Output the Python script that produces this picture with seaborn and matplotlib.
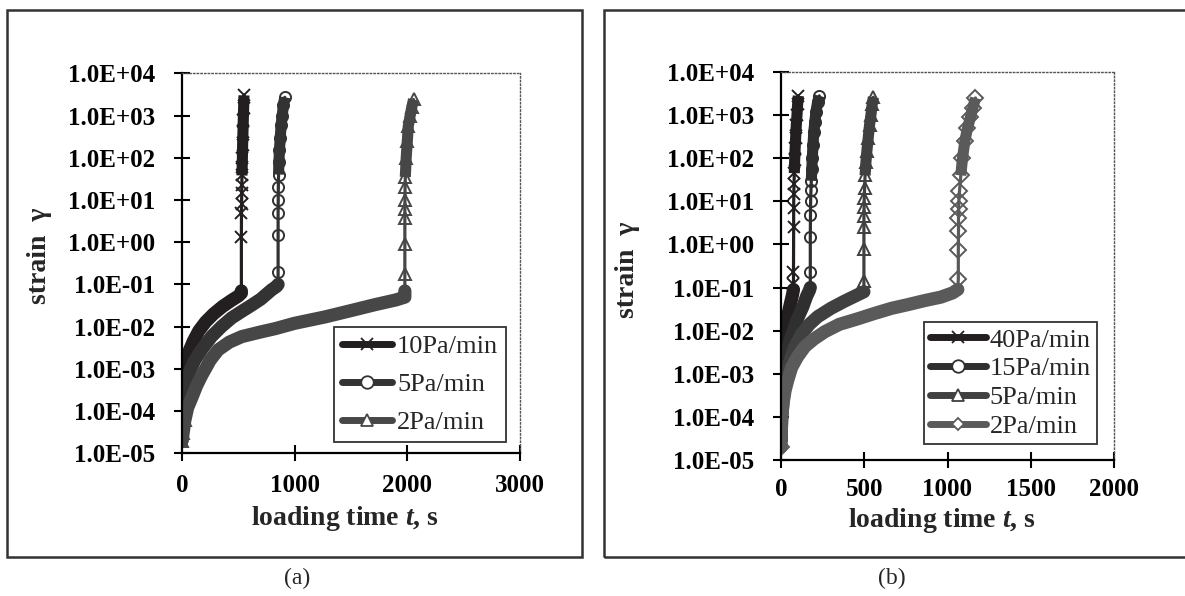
import numpy as np
import matplotlib
matplotlib.use("Agg")
import matplotlib.pyplot as plt
from matplotlib.lines import Line2D
from matplotlib.patches import Rectangle
from matplotlib.ticker import FuncFormatter, LogLocator, NullLocator, MultipleLocator
import seaborn as sns

# ---- panel (a): loading time (s) and strain ----
t_a10 = [0, 3, 8, 15, 30, 60, 100, 150, 210, 280, 360, 440, 500, 527,
         527, 527, 528, 529, 530, 531, 532, 534, 536, 538, 541, 544, 547, 550]
g_a10 = [2e-5, 6e-5, 1.5e-4, 4e-4, 1e-3, 2.5e-3, 4.5e-3, 8e-3, 1.3e-2, 2e-2, 3e-2, 4.2e-2, 5.3e-2, 6.2e-2,
         0.07, 1.3, 5, 8, 15, 23, 38, 60, 100, 200, 400, 800, 1500, 3000]

t_a5 = [0, 5, 15, 35, 70, 113, 180, 261, 350, 439, 530, 616, 700, 794, 840, 853,
        853, 853, 853, 854, 855, 857, 860, 865, 872, 880, 890, 900, 912]
g_a5 = [3e-5, 6e-5, 1.5e-4, 4e-4, 9e-4, 1.6e-3, 3e-3, 5.8e-3, 1e-2, 1.6e-2, 2.3e-2, 3.2e-2, 4.5e-2, 7.4e-2, 9e-2, 0.1,
        0.2, 1.5, 5, 10, 20, 40, 80, 150, 300, 600, 1000, 1800, 2700]

t_a2 = [0, 10, 25, 50, 85, 130, 175, 250, 320, 420, 530, 700, 830, 1000, 1270, 1500, 1710, 1900, 1978,
        1978, 1978, 1978, 1978, 1978, 1979, 1980, 1982, 1990, 2000, 2008, 2025, 2040, 2055]
g_a2 = [2e-5, 3e-5, 6e-5, 1.2e-4, 2e-4, 4e-4, 7e-4, 1.6e-3, 2.8e-3, 4.3e-3, 5.8e-3, 7.5e-3, 9e-3, 1.2e-2, 1.7e-2, 2.4e-2, 3.3e-2, 4.3e-2, 5e-2,
        0.07, 0.18, 0.93, 3.7, 6, 10, 20, 35, 100, 250, 550, 1000, 1600, 2400]

# ---- panel (b) ----
t_b40 = [0, 2, 5, 10, 18, 28, 40, 55, 68, 75,
         75, 75, 76, 76, 77, 78, 80, 82, 85, 88, 92, 96, 100, 104]
g_b40 = [3e-5, 1.5e-4, 6e-4, 2e-3, 5e-3, 1e-2, 2.2e-2, 4e-2, 6.5e-2, 0.09,
         0.12, 0.23, 2.5, 7, 15, 25, 45, 90, 170, 300, 600, 1000, 1800, 2800]

t_b15 = [0, 3, 8, 15, 25, 40, 54, 80, 104, 130, 154, 170, 176,
         176, 176, 177, 178, 180, 182, 185, 188, 192, 197, 203, 210, 220, 230]
g_b15 = [3e-5, 1e-4, 3e-4, 8e-4, 1.8e-3, 3.5e-3, 6e-3, 1.2e-2, 2.1e-2, 3.5e-2, 6.3e-2, 8.5e-2, 0.1,
         0.23, 1.5, 4.8, 10, 18, 30, 55, 100, 200, 400, 700, 1200, 2000, 2800]

t_b5 = [0, 5, 15, 30, 50, 80, 120, 170, 220, 300, 380, 450, 498,
        498, 498, 498, 498, 499, 500, 502, 505, 510, 516, 524, 532, 540, 548, 555]
g_b5 = [3e-5, 1e-4, 3e-4, 8e-4, 1.8e-3, 4e-3, 8e-3, 1.4e-2, 2.1e-2, 3.3e-2, 4.8e-2, 6.5e-2, 8e-2,
        0.14, 0.78, 2.5, 4.6, 7.5, 12, 20, 40, 80, 150, 300, 600, 1000, 1800, 2600]

t_b2 = [0, 4, 12, 24, 40, 64, 100, 144, 200, 264, 350, 464, 560, 664, 760, 864, 960, 1030, 1062,
        1065, 1065, 1066, 1066, 1067, 1068, 1072, 1080, 1090, 1104, 1120, 1138, 1152, 1168]
g_b2 = [2e-5, 1e-4, 2e-4, 4e-4, 7e-4, 1.4e-3, 2.5e-3, 4.3e-3, 6.5e-3, 9.5e-3, 1.4e-2, 1.9e-2, 2.5e-2, 3.3e-2, 4e-2, 5e-2, 6e-2, 7.5e-2, 0.09,
        0.16, 0.75, 2, 4, 6.5, 10, 17, 40, 100, 245, 500, 900, 1450, 2500]

labels_a = ["10Pa/min", "5Pa/min", "2Pa/min"]
labels_b = ["40Pa/min", "15Pa/min", "5Pa/min", "2Pa/min"]

sns.set_style("white")
plt.rcParams["font.family"] = ["Liberation Serif", "DejaVu Serif"]
plt.rcParams["font.weight"] = "bold"
plt.rcParams["mathtext.fontset"] = "custom"
plt.rcParams["mathtext.it"] = "Liberation Serif:bold:italic"
plt.rcParams["mathtext.rm"] = "Liberation Serif:bold"


def draw_series(ax, t, g, color, marker):
    t = np.asarray(t, float)
    g = np.asarray(g, float)
    creep = g <= 0.1
    top = g >= 30
    marked = (g > 0.1) | (g < 1e-4)
    sns.lineplot(x=t, y=g, ax=ax, color=color, lw=2.3, sort=False, estimator=None)
    sns.lineplot(x=t[creep], y=g[creep], ax=ax, color=color, lw=9.5, sort=False,
                 estimator=None, solid_capstyle="round")
    sns.lineplot(x=t[top], y=g[top], ax=ax, color=color, lw=8, sort=False,
                 estimator=None, solid_capstyle="butt")
    sns.lineplot(x=t[marked], y=g[marked], ax=ax, color=color, ls="none", marker=marker,
                 markersize=8, markerfacecolor="none", markeredgecolor=color,
                 markeredgewidth=1.4, sort=False, estimator=None)


def style_axes(ax, xmax, xstep, xpad):
    ax.set_yscale("log")
    ax.set_ylim(1e-5, 1e4)
    ax.set_xlim(0, xmax)
    ax.yaxis.set_major_locator(LogLocator(base=10, numticks=20))
    ax.yaxis.set_minor_locator(NullLocator())
    ax.yaxis.set_major_formatter(FuncFormatter(lambda v, p: f"{v:.1E}"))
    ax.xaxis.set_major_locator(MultipleLocator(xstep))
    ax.tick_params(axis="both", which="major", direction="inout", length=12, width=1.5,
                   colors="black", labelsize=18, bottom=True, left=True)
    ax.tick_params(axis="y", pad=13)
    ax.tick_params(axis="x", pad=xpad)
    for lab in ax.get_xticklabels() + ax.get_yticklabels():
        lab.set_fontweight("bold")
    for side in ("left", "bottom"):
        ax.spines[side].set_color("black")
        ax.spines[side].set_linewidth(1.6)
    for side in ("top", "right"):
        ax.spines[side].set_color("#555555")
        ax.spines[side].set_linewidth(1.0)
        ax.spines[side].set_linestyle(":")
    ax.set_xlabel("loading time $t$, s", fontsize=20, fontweight="bold")
    ax.set_ylabel("strain  γ", fontsize=20, fontweight="bold")


fig = plt.figure(figsize=(11.85, 5.96), dpi=100)

# outer frames around each panel
fig.patches.append(Rectangle((7 / 1185, 1 - 557 / 596), 575 / 1185, 547 / 596,
                             transform=fig.transFigure, fill=False, lw=1.8,
                             edgecolor="#333333", zorder=0))
fig.patches.append(Rectangle((604 / 1185, 1 - 557 / 596), 600 / 1185, 547 / 596,
                             transform=fig.transFigure, fill=False, lw=1.8,
                             edgecolor="#333333", zorder=0))

ax_a = fig.add_axes([182 / 1185, 1 - 453.3 / 596, 338 / 1185, 380 / 596])
ax_b = fig.add_axes([781 / 1185, 1 - 460 / 596, 333 / 1185, 388 / 596])

series_a = [(t_a10, g_a10, "#231f20", "x"),
            (t_a5, g_a5, "#333333", "o"),
            (t_a2, g_a2, "#474747", "^")]
series_b = [(t_b40, g_b40, "#231f20", "x"),
            (t_b15, g_b15, "#2f2f2f", "o"),
            (t_b5, g_b5, "#404040", "^"),
            (t_b2, g_b2, "#5a5a5a", "D")]

for ax, series, labels, xmax, xstep, xpad in [(ax_a, series_a, labels_a, 3000, 1000, 9),
                                              (ax_b, series_b, labels_b, 2000, 500, 7)]:
    style_axes(ax, xmax, xstep, xpad)
    handles = []
    for (t, g, c, m), lab in zip(series, labels):
        draw_series(ax, t, g, c, m)
        handles.append(Line2D([], [], color=c, lw=5, marker=m,
                              markersize=(6 if m == "D" else 9),
                              markerfacecolor="white" if m != "x" else "none",
                              markeredgecolor=c if m != "x" else "#222222",
                              markeredgewidth=1.3, label=lab))
    if ax is ax_a:
        leg = ax.legend(handles=handles, loc="lower right", bbox_to_anchor=(0.959, 0.03),
                        prop={"size": 19, "weight": "normal"}, frameon=True, fancybox=False,
                        handlelength=1.9, handletextpad=0.2, labelspacing=0.55,
                        borderpad=0.3, borderaxespad=0)
    else:
        leg = ax.legend(handles=handles, loc="lower right", bbox_to_anchor=(0.95, 0.04),
                        prop={"size": 19, "weight": "normal"}, frameon=True, fancybox=False,
                        handlelength=2.1, handletextpad=0.15, labelspacing=0.2,
                        borderpad=0.25, borderaxespad=0)
    leg.get_frame().set_edgecolor("black")
    leg.get_frame().set_linewidth(1.3)

ax_a.yaxis.set_label_coords(-0.386, 0.52)
ax_a.xaxis.set_label_coords(0.482, -0.134)
ax_b.yaxis.set_label_coords(-0.423, 0.49)
ax_b.xaxis.set_label_coords(0.483, -0.118)

fig.text(297 / 1185, 1 - 578 / 596, "(a)", ha="center", va="center", fontsize=17, fontweight="normal")
fig.text(892 / 1185, 1 - 578 / 596, "(b)", ha="center", va="center", fontsize=17, fontweight="normal")

fig.savefig("out.png", dpi=100)
